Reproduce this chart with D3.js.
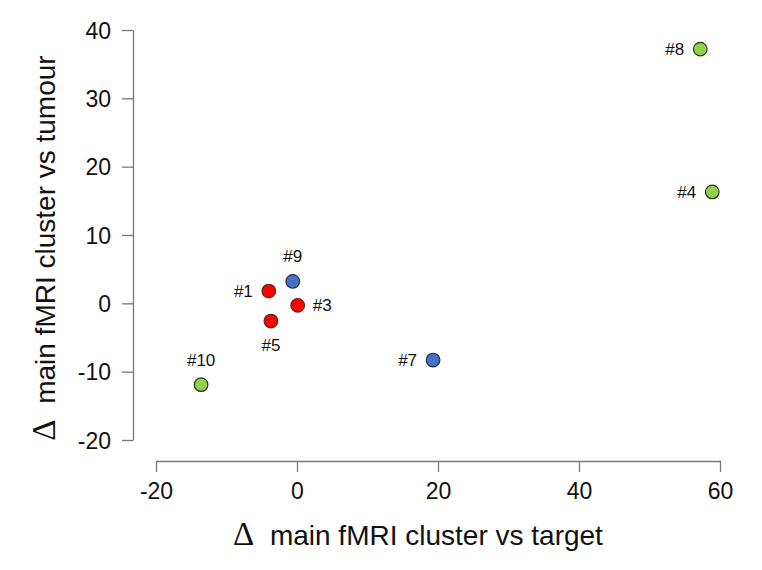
<!DOCTYPE html>
<html>
<head>
<meta charset="utf-8">
<script src="https://cdn.jsdelivr.net/npm/d3@7"></script>
<style>
  body { margin: 0; background: #fff; }
  text { font-family: "Liberation Sans", Arial, sans-serif; }
</style>
</head>
<body>
<svg id="chart" width="762" height="570"></svg>
<script>
// patient ids, coordinates (delta vs target, delta vs tumour), group
var ids = ["#1", "#3", "#4", "#5", "#7", "#8", "#9", "#10"];
var xVals = [-4.0, 0.1, 58.9, -3.7, 19.3, 57.2, -0.6, -13.6];
var yVals = [1.8, -0.3, 16.3, -2.6, -8.3, 37.2, 3.2, -11.9];
var groups = ["red", "red", "green", "red", "blue", "green", "blue", "green"];
var labelPos = ["left", "right", "left", "below", "left", "left", "above", "above"];
var xTicks = [-20, 0, 20, 40, 60];
var yTicks = [-20, -10, 0, 10, 20, 30, 40];

var fill = {red: "#ff0000", blue: "#4472c4", green: "#92d050"};
var stroke = {red: "#5a2a10", blue: "#1f2f50", green: "#2a3a10"};

var svg = d3.select("#chart");
var x = d3.scaleLinear().domain([-20, 60]).range([156, 720]);
var y = d3.scaleLinear().domain([-20, 40]).range([440, 30]);
var fmt = function(d) { return String(d); };  // plain hyphen minus, like the original

var xAxis = svg.append("g")
    .attr("transform", "translate(0,461)")
    .call(d3.axisBottom(x).tickValues(xTicks).tickFormat(fmt).tickSize(11).tickPadding(11).tickSizeOuter(0));
var yAxis = svg.append("g")
    .attr("transform", "translate(133,0)")
    .call(d3.axisLeft(y).tickValues(yTicks).tickFormat(fmt).tickSize(11).tickPadding(11).tickSizeOuter(0));

[xAxis, yAxis].forEach(function(a) {
  a.select(".domain").attr("stroke", "#777").attr("stroke-width", 1.3);
  a.selectAll(".tick line").attr("stroke", "#777").attr("stroke-width", 1.3);
  a.selectAll(".tick text").attr("font-size", "23px").attr("fill", "#111")
    .style("font-family", "'Liberation Sans', Arial, sans-serif");
});
yAxis.selectAll(".tick text").attr("dy", "0.36em");

var data = ids.map(function(id, i) {
  return {id: id, x: xVals[i], y: yVals[i], g: groups[i], pos: labelPos[i]};
});

var pt = svg.append("g").selectAll("g")
  .data(data)
  .enter().append("g")
    .attr("transform", function(d) { return "translate(" + x(d.x) + "," + y(d.y) + ")"; });

pt.append("circle")
    .attr("r", 6.8)
    .attr("fill", function(d) { return fill[d.g]; })
    .attr("stroke", function(d) { return stroke[d.g]; })
    .attr("stroke-width", 1.2);

pt.append("text")
    .attr("font-size", "17px")
    .attr("fill", "#111")
    .attr("x", function(d) { return d.pos === "left" ? -16 : d.pos === "right" ? 15 : 0; })
    .attr("y", function(d) { return d.pos === "above" ? -19 : d.pos === "below" ? 30 : 6; })
    .attr("text-anchor", function(d) { return d.pos === "left" ? "end" : d.pos === "right" ? "start" : "middle"; })
    .text(function(d) { return d.id; });

// axis titles
var xt = svg.append("text")
    .attr("x", 418).attr("y", 545)
    .attr("text-anchor", "middle")
    .attr("font-size", "28px")
    .attr("fill", "#111");
xt.append("tspan").style("font-family", "'Liberation Serif', 'Times New Roman', serif").attr("font-size", "33px").text("\u0394");
xt.append("tspan").text("\u00a0 main fMRI cluster vs target");

var yt = svg.append("text")
    .attr("transform", "translate(55,248) rotate(-90)")
    .attr("text-anchor", "middle")
    .attr("font-size", "28px")
    .attr("fill", "#111");
yt.append("tspan").style("font-family", "'Liberation Serif', 'Times New Roman', serif").attr("font-size", "33px").text("\u0394");
yt.append("tspan").text("\u00a0 main fMRI cluster vs tumour");
</script>
</body>
</html>
